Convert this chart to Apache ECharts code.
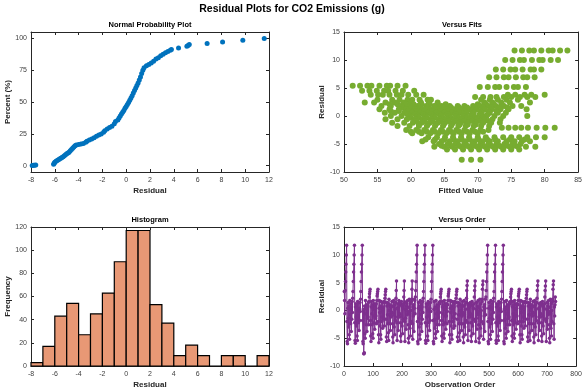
<!DOCTYPE html>
<html>
<head>
<meta charset="utf-8">
<script src="https://cdn.jsdelivr.net/npm/echarts@6/dist/echarts.min.js"></script>
<style>
  html, body { margin: 0; padding: 0; background: #fff; }
  #chart { width: 585px; height: 390px; }
</style>
</head>
<body>
<div id="chart"></div>
<script>
// normal probability plot: residual / percent
var nppResidual = [-7.9,-7.8,-7.7,-7.6,
  -6.1,-6.05,-6.0,-5.9,-5.8,-5.7,-5.6,-5.5,-5.4,-5.3,-5.2,-5.1,-5.0,-4.9,-4.8,-4.7,-4.6,-4.5,-4.4,-4.3,-4.2,-4.0,-3.8,-3.6,
  -3.4,-3.3,-3.1,-2.9,-2.7,-2.5,-2.3,-2.1,-1.9,-1.8,-1.6,-1.4,-1.2,-1.0,-0.9,-0.7,-0.6,-0.5,-0.4,-0.3,-0.2,-0.1,
  0.0,0.1,0.2,0.3,0.4,0.5,0.6,0.7,0.8,0.9,1.0,1.1,1.2,1.3,1.4,1.5,1.7,1.9,2.1,2.3,2.5,2.7,2.9,3.1,3.3,3.5,3.7,3.8,
  4.4,5.1,5.2,5.3,6.8,8.1,9.8,11.6];
var nppPercent = [0.2,0.3,0.4,0.5,
  1.0,1.8,2.6,3.4,4.0,4.6,5.2,5.8,6.4,7.0,7.8,8.6,9.4,10.0,10.6,11.6,12.6,13.6,14.6,15.6,16.2,16.6,17.0,17.4,
  18.4,19.2,20.2,21.0,22.0,23.0,24.0,24.8,26.2,27.4,28.8,30.0,31.0,33.0,34.6,35.8,37.4,39.0,40.6,42.0,43.4,45.0,
  46.5,48.0,49.6,51.4,53.2,55.0,57.0,59.0,61.0,63.0,65.0,67.2,69.6,72.4,75.0,77.0,78.4,79.4,80.6,82.0,83.8,84.8,86.4,87.6,88.6,89.6,90.6,91.2,
  92.4,93.8,94.4,95.2,96.0,97.2,98.6,99.8];

// versus fits: residual rows and the fitted values on each row
var fitsLevels = [11.7,10.0,8.3,6.9,5.4,5.2,4.5,3.8,3.4,2.9,2.4,2.1,1.8,1.5,1.2,0.9,0.6,0.3,0.0,-0.3,-0.6,-0.9,-1.2,-1.5,-1.8,-2.1,-2.5,-2.8,-3.1,-3.8,-4.2,-4.5,-5.0,-5.3,-5.5,-6.0,-7.8];
var fitsFitted = [
  [75.5,76.6,77.7,78.4,79.5,80.6,81.2,82.3,83.4],
  [74.1,75.2,76.3,76.9,78.1,79.2,79.7,80.9,82.0],
  [72.7,73.8,74.9,75.6,76.7,77.9,78.4,79.5],
  [71.7,72.8,73.9,74.6,75.7,76.8,77.4,78.5],
  [51.3,52.4,53.5,54.1,55.3,56.4,56.9,58.0,59.2],
  [70.3,71.5,72.6,73.2,74.3,75.4,76.0,77.2],
  [52.7,53.8,54.9,56.0,56.6,57.7,58.8,60.5],
  [54.0,55.1,55.8,56.8,57.9,58.6,59.6,60.8,61.9,74.5,75.6,77.0,78.0,80.0],
  [69.6,70.8,71.9,72.8,73.9,75.0,76.3,77.4,78.6],
  [55.0,57.2,58.3,59.5,60.2,61.3,62.5,63.0,70.5,71.8,73.0,74.3,76.0],
  [53.1,54.5,56.2,57.6,58.9,60.0,61.5,62.7,64.0,71.0,72.2,73.5,74.8,77.8],
  [56.8,58.0,59.2,60.4,61.6,62.8,64.0,65.2,70.0,71.2,72.4,73.6],
  [55.6,57.0,58.5,59.8,61.0,62.3,63.5,64.6,65.8,67.0,68.0,69.3,70.4,71.6,72.7,73.9,75.2,76.5],
  [58.8,60.0,61.2,62.4,63.6,64.8,66.0,67.2,68.4,69.6,70.8,72.0,73.2,74.4],
  [55.3,56.8,58.2,59.3,60.6,61.8,63.0,64.2,65.3,66.5,67.5,68.7,69.8,71.0,72.1,73.4,74.6,77.3],
  [57.0,58.2,59.6,60.8,62.0,63.2,64.4,65.6,66.8,68.0,69.2,70.4,71.6,72.8],
  [56.1,57.6,59.0,60.2,61.4,62.6,63.8,65.0,66.1,67.2,68.3,69.4,70.6,71.8,73.0,74.2],
  [59.5,60.7,61.9,63.1,64.3,65.5,66.7,67.9,69.1,70.3,71.5],
  [57.0,58.6,59.8,61.0,62.2,63.4,64.5,65.6,66.8,67.9,69.0,70.2,71.3,72.5,73.8,77.4],
  [60.0,61.2,62.4,63.6,64.8,66.0,67.2,68.4,69.6,70.8],
  [56.2,58.0,59.4,60.6,61.8,63.0,64.2,65.3,66.5,67.6,68.8,69.9,71.0,72.2,73.4],
  [60.8,62.0,63.2,64.4,65.6,66.8,68.0,69.2,70.4,71.6],
  [57.2,59.0,60.3,61.6,62.8,64.0,65.1,66.3,67.4,68.5,69.7,70.8,72.0,73.3],
  [61.2,62.5,63.7,64.9,66.1,67.3,68.5,69.7],
  [58.0,59.8,61.2,62.4,63.6,64.8,66.0,67.1,68.2,69.4,70.5,71.7],
  [73.6,74.6,75.6,76.5,77.5,78.8,80.1,81.5],
  [59.3,60.8,62.0,63.3,64.5,65.7,66.8,68.0,69.2,70.4,71.6],
  [60.0,61.2,62.4,63.6,64.8,66.0,67.2,68.4,69.6,70.8],
  [60.2,61.6,62.9,64.1,65.3,66.4,67.6,68.8,70.0],
  [62.6,63.9,65.1,66.3,67.5,68.7,70.0,71.2,72.5,73.8,75.0,76.2,77.4,78.7,80.0],
  [62.2,63.6,65.0,66.4,67.6,68.8,70.1,71.4,72.6,74.8,77.0],
  [61.7,63.4,64.6,65.8,67.0,68.2,69.5,70.7,71.8,73.0,74.3,75.5,76.6,77.8],
  [64.2,65.5,66.7,68.0,69.2,70.4,71.6,72.8,74.0,75.2,76.4],
  [64.6,66.0,67.2,68.4,69.6,70.8,72.0,73.2,74.4,75.6],
  [63.5,65.0,66.2,67.5,68.7,69.9,71.1,72.3,73.5,74.8,76.0,77.2,78.6],
  [65.4,66.6,67.8,69.0,70.2,71.4,72.6,73.8,75.0,76.2],
  [67.6,69.0,70.4]
];

// histogram: bin edges and counts
var histEdges = [-8,-7,-6,-5,-4,-3,-2,-1,0,1,2,3,4,5,6,7,8,9,10,11,12];
var histCounts = [3,17,43,54,27,45,63,90,117,117,53,37,9,18,9,0,9,9,0,9];

// versus order: residual by observation (1..729)
var orderResidual = [
  3.4,1.8,-0.6,3.6,5.2,6.9,8.3,9.95,11.7,-2.0,-5.6,-6.0,0.4,1.4,-1.4,-3.0,0.8,-4.4,-5.2,1.8,0.2,-0.8,-2.4,1.2,-3.8,0.6,-1.6,
  1.6,-0.4,2.2,3.4,5.2,6.9,8.3,9.95,11.7,-2.2,-5.4,-5.9,0.6,1.2,-1.2,-2.8,1.0,-4.6,-5.4,1.6,0.0,-1.0,-2.2,1.4,-3.6,0.4,-1.8,
  1.4,-0.2,2.0,3.4,5.2,6.9,8.3,9.95,11.7,-1.8,-5.6,-6.0,0.2,-7.8,-7.8,-7.6,0.8,-4.2,-5.0,1.8,0.4,-0.6,-2.6,1.0,-3.8,0.8,-1.4,
  0.8,-1.2,1.4,-2.6,1.6,2.4,3.0,3.4,3.8,-1.8,-4.6,-5.6,0.6,1.6,-0.6,-2.6,1.0,-4.2,-5.0,1.8,0.2,-1.0,-2.2,1.2,-3.4,0.4,-1.4,
  1.0,-1.0,1.2,-2.4,1.8,2.6,3.0,3.4,3.8,-2.0,-4.4,-5.8,0.4,1.8,-0.4,-2.8,0.8,-4.4,-5.2,1.6,0.4,-1.2,-2.0,1.4,-3.2,0.2,-1.6,
  0.6,-1.4,1.6,-2.8,1.4,2.2,2.8,3.4,3.8,-1.6,-4.8,-5.6,0.8,1.4,-0.8,-2.4,1.2,-4.0,-5.4,2.0,0.0,-0.8,-2.4,1.0,-3.6,0.6,-1.2,
  0.6,-1.0,1.6,-0.4,-2.4,-4.8,-5.8,0.8,1.8,-0.8,-3.0,1.0,-4.4,0.2,-1.8,1.4,2.2,3.6,5.3,-2.2,-5.4,0.4,-1.2,1.2,-3.6,0.6,1.8,
  0.8,-1.2,1.4,-0.6,-2.2,-4.6,-5.6,1.0,1.6,-1.0,-2.8,0.8,-4.2,0.4,-1.6,1.2,2.4,3.6,5.3,-2.0,-5.6,0.2,-1.4,1.4,-3.4,0.8,1.6,
  0.4,-0.8,1.8,-0.2,-2.6,-5.0,-5.8,0.6,2.0,-0.6,-3.2,1.2,-4.6,0.0,-2.0,1.6,2.0,3.8,5.3,-2.4,-5.2,0.6,-1.0,1.0,-3.8,0.4,2.0,
  1.8,-0.6,2.4,3.6,5.2,6.9,8.3,9.95,11.7,-2.0,-5.6,-6.0,0.4,1.4,-1.4,-3.0,0.8,-4.4,-5.2,1.8,0.2,-0.8,-2.4,1.2,-3.8,0.6,-1.6,
  1.6,-0.4,2.2,3.4,5.2,6.9,8.3,9.95,11.7,-2.2,-5.4,-5.9,0.6,1.2,-1.2,-2.8,1.0,-4.6,-5.4,1.6,0.0,-1.0,-2.2,1.4,-3.6,0.4,-1.8,
  1.4,-0.2,2.0,3.4,5.2,6.9,8.3,9.95,11.7,-1.8,-5.6,-6.0,0.2,1.6,-1.6,-3.2,0.6,-4.2,-5.0,1.8,0.4,-0.6,-2.6,1.0,-3.8,0.8,-1.4,
  0.8,-1.2,1.4,-2.6,-0.4,1.2,1.6,2.4,3.0,3.4,3.8,-1.8,-4.6,-5.6,0.6,1.6,-0.6,-2.6,1.0,-4.2,-5.0,1.8,0.2,-1.0,-2.2,1.2,-3.4,
  1.0,-1.0,1.2,-2.4,-0.2,1.0,1.8,2.6,3.0,3.4,3.8,-2.0,-4.4,-5.8,0.4,1.8,-0.4,-2.8,0.8,-4.4,-5.2,1.6,0.4,-1.2,-2.0,1.4,-3.2,
  0.6,-1.4,1.6,-2.8,-0.6,1.4,1.4,2.2,2.8,3.4,3.8,-1.6,-4.8,-5.6,0.8,1.4,-0.8,-2.4,1.2,-4.0,-5.4,2.0,0.0,-0.8,-2.4,1.0,-3.6,
  0.6,-1.0,1.6,-0.4,-2.4,-4.8,-5.8,0.8,1.8,-0.8,-3.0,1.0,-4.4,0.2,-1.8,1.4,2.2,3.6,4.5,5.3,-2.2,-5.4,0.4,-1.2,1.2,-3.6,0.6,
  0.8,-1.2,1.4,-0.6,-2.2,-4.6,-5.6,1.0,1.6,-1.0,-2.8,0.8,-4.2,0.4,-1.6,1.2,2.4,3.6,4.4,5.3,-2.0,-5.6,0.2,-1.4,1.4,-3.4,0.8,
  0.4,-0.8,1.8,-0.2,-2.6,-5.0,-5.8,0.6,2.0,-0.6,-3.2,1.2,-4.6,0.0,-2.0,1.6,2.0,3.8,4.6,5.3,-2.4,-5.2,0.6,-1.0,1.0,-3.8,0.4,
  2.0,-0.8,2.4,3.6,5.2,6.9,8.3,9.95,11.7,-2.0,-5.6,-6.0,0.4,1.4,-1.4,-3.0,0.8,-4.4,-5.2,1.8,0.2,-0.8,-2.4,1.2,-3.8,0.6,-1.6,
  1.6,-0.4,2.2,3.4,5.2,6.9,8.3,9.95,11.7,-2.2,-5.4,-5.9,0.6,1.2,-1.2,-2.8,1.0,-4.6,-5.4,1.6,0.0,-1.0,-2.2,1.4,-3.6,0.4,-1.8,
  1.4,-0.2,2.0,3.4,5.2,6.9,8.3,9.95,11.7,-1.8,-5.6,-6.0,0.2,1.6,-1.6,-3.2,0.6,-4.2,-5.0,1.8,0.4,-0.6,-2.6,1.0,-3.8,0.8,-1.4,
  0.8,-1.2,1.4,-2.6,1.2,1.6,2.4,3.0,3.4,3.8,-1.8,-4.6,-5.6,0.6,1.6,-0.6,-2.6,1.0,-4.2,-5.0,1.8,0.2,-1.0,-2.2,1.2,-3.4,0.4,
  1.0,-1.0,1.2,-2.4,1.0,1.8,2.6,3.0,3.4,3.8,-2.0,-4.4,-5.8,0.4,1.8,-0.4,-2.8,0.8,-4.4,-5.2,1.6,0.4,-1.2,-2.0,1.4,-3.2,0.2,
  0.6,-1.4,1.6,-2.8,1.4,1.4,2.2,2.8,3.4,3.8,-1.6,-4.8,-5.6,0.8,1.4,-0.8,-2.4,1.2,-4.0,-5.4,2.0,0.0,-0.8,-2.4,1.0,-3.6,0.6,
  0.6,-1.0,1.6,-0.4,-2.4,-4.8,-5.8,0.8,1.8,-0.8,-3.0,1.0,-4.4,0.2,-1.8,1.4,2.2,3.6,4.5,5.3,-2.2,-5.4,0.4,-1.2,1.2,-3.6,0.6,
  0.8,-1.2,1.4,-0.6,-2.2,-4.6,-5.6,1.0,1.6,-1.0,-2.8,0.8,-4.2,0.4,-1.6,1.2,2.4,3.6,4.4,5.3,-2.0,-5.6,0.2,-1.4,1.4,-3.4,0.8,
  0.4,-0.8,1.8,-0.2,-2.6,-5.0,-5.8,0.6,2.0,-0.6,-3.2,1.2,-4.6,0.0,-2.0,1.6,2.0,3.8,4.6,5.3,-2.4,-5.2,0.6,-1.0,1.0,2.4,1.6
];

var FONT = 'Liberation Sans';
var LINE = '#262626';
var TXT = '#404040';

// bottom + top x axes for one grid (top one only carries ticks, like a box)
function xPair(g, min, max, step, name) {
  var base = {
    type: 'value', gridIndex: g, min: min, max: max, interval: step,
    splitLine: { show: false },
    axisLine: { onZero: false, lineStyle: { color: LINE, width: 1 } },
    axisTick: { inside: true, length: 3, lineStyle: { color: LINE } }
  };
  return [
    Object.assign({}, base, {
      position: 'bottom', name: name, nameLocation: 'middle', nameGap: 15,
      nameTextStyle: { fontFamily: FONT, fontSize: 8, fontWeight: 'bold', color: '#262626' },
      axisLabel: { fontFamily: FONT, fontSize: 7, color: TXT, margin: 5 }
    }),
    Object.assign({}, base, { position: 'top', axisLabel: { show: false } })
  ];
}

function yPair(g, min, max, step, name, ticks) {
  var base = {
    type: 'value', gridIndex: g, min: min, max: max,
    splitLine: { show: false },
    axisLine: { onZero: false, lineStyle: { color: LINE, width: 1 } },
    axisTick: { inside: true, length: 3, lineStyle: { color: LINE } }
  };
  if (ticks) base.axisTick.customValues = ticks; else base.interval = step;
  var lab = { fontFamily: FONT, fontSize: 7, color: TXT, margin: 4 };
  if (ticks) lab.customValues = ticks;
  return [
    Object.assign({}, base, {
      position: 'left', name: name, nameLocation: 'middle', nameGap: 17,
      nameTextStyle: { fontFamily: FONT, fontSize: 8, fontWeight: 'bold', color: '#262626' },
      axisLabel: lab
    }),
    Object.assign({}, base, { position: 'right', axisLabel: { show: false } })
  ];
}

var fitsData = [];
fitsLevels.forEach(function (r, k) {
  fitsFitted[k].forEach(function (f) { fitsData.push([f, r]); });
});

var histData = histCounts.map(function (c, i) { return [histEdges[i], histEdges[i + 1], c]; });

var myChart = echarts.init(document.getElementById('chart'));

var subTitle = function (text, x, y) {
  return { text: text, left: x, top: y, textAlign: 'center', padding: 0,
    textStyle: { fontFamily: FONT, fontSize: 7.5, fontWeight: 'bold', color: '#000' } };
};

var option = {
  animation: false,
  backgroundColor: '#fff',
  title: [
    { text: 'Residual Plots for CO2 Emissions (g)', left: 292, top: 4, textAlign: 'center', padding: 0,
      textStyle: { fontFamily: FONT, fontSize: 10.5, fontWeight: 'bold', color: '#000' } },
    subTitle('Normal Probability Plot', 150, 21),
    subTitle('Versus Fits', 462, 21),
    subTitle('Histogram', 150, 216),
    subTitle('Versus Order', 462, 216)
  ],
  grid: [
    { left: 31, top: 32, width: 238, height: 140 },
    { left: 344, top: 32, width: 237, height: 140 },
    { left: 31, top: 227, width: 238, height: 140 },
    { left: 344, top: 227, width: 237, height: 140 }
  ],
  xAxis: [].concat(
    xPair(0, -8, 12, 2, 'Residual'),
    xPair(1, 50, 85, 5, 'Fitted Value'),
    xPair(2, -8, 12, 2, 'Residual'),
    xPair(3, 0, 800, 100, 'Observation Order')
  ),
  yAxis: [].concat(
    yPair(0, -5, 105, 25, 'Percent (%)', [0, 25, 50, 75, 100]),
    yPair(1, -10, 15, 5, 'Residual'),
    yPair(2, 0, 120, 20, 'Frequency'),
    yPair(3, -10, 15, 5, 'Residual')
  ),
  series: [
    {
      type: 'scatter', xAxisIndex: 0, yAxisIndex: 0,
      symbolSize: 5, itemStyle: { color: '#0072BD', opacity: 1 },
      data: nppResidual.map(function (v, i) { return [v, nppPercent[i]]; })
    },
    {
      type: 'scatter', xAxisIndex: 2, yAxisIndex: 2,
      symbolSize: 6, itemStyle: { color: '#77AC30', opacity: 1 },
      data: fitsData
    },
    {
      type: 'custom', xAxisIndex: 4, yAxisIndex: 4,
      encode: { x: [0, 1], y: 2 },
      data: histData,
      renderItem: function (params, api) {
        var p0 = api.coord([api.value(0), 0]);
        var p1 = api.coord([api.value(1), api.value(2)]);
        return {
          type: 'rect',
          shape: { x: p0[0], y: p1[1], width: p1[0] - p0[0], height: p0[1] - p1[1] },
          style: { fill: '#E89875', stroke: '#000', lineWidth: 1.2 }
        };
      }
    },
    {
      type: 'line', xAxisIndex: 6, yAxisIndex: 6,
      symbol: 'circle', symbolSize: 3.5, showAllSymbol: true,
      lineStyle: { color: '#7E2F8E', width: 1 },
      itemStyle: { color: '#7E2F8E' },
      data: orderResidual.map(function (v, i) { return [i + 1, v]; })
    }
  ]
};

myChart.setOption(option);
</script>
</body>
</html>
